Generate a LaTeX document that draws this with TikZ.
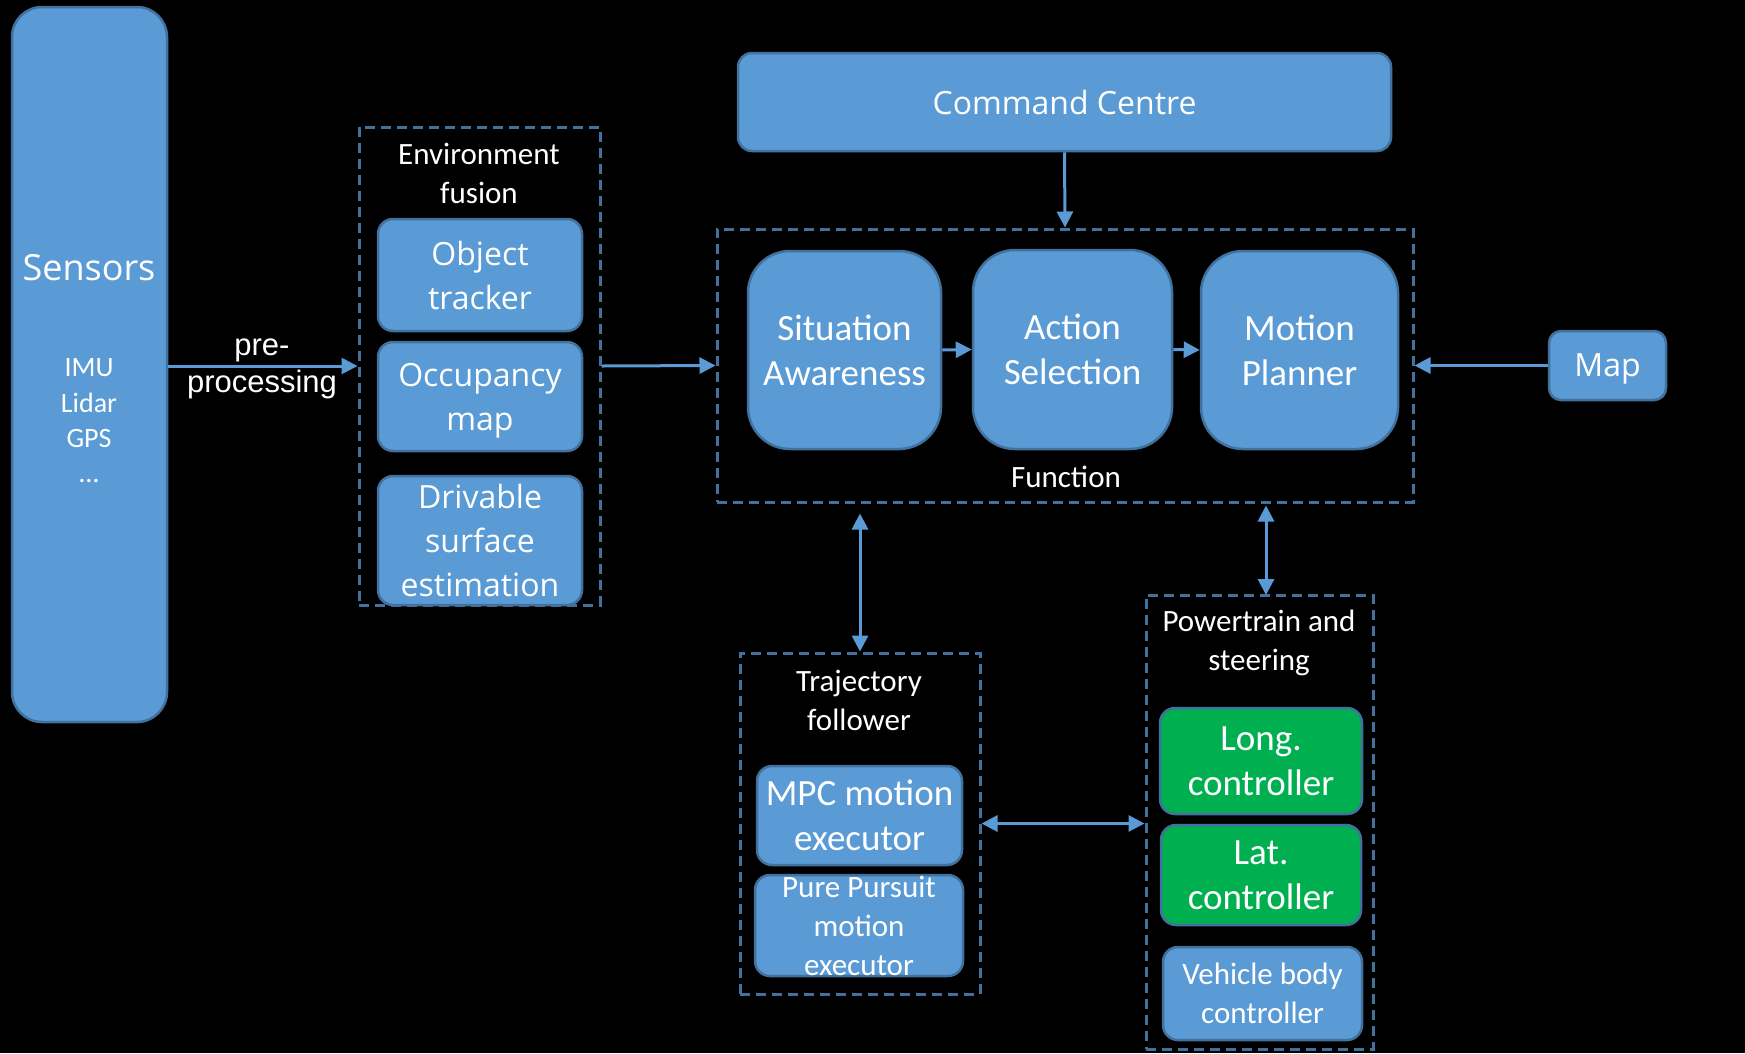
\documentclass[tikz,border=0pt]{standalone}
\usepackage{fontspec}
\newfontfamily\segfont{Open Sans}
\newfontfamily\calfont{Carlito}
\newfontfamily\arifont{Liberation Sans}
\usetikzlibrary{arrows.meta,calc}
\definecolor{boxfill}{HTML}{5B9BD5}
\definecolor{boxedge}{HTML}{41719C}
\definecolor{ctrlgreen}{HTML}{00B050}
\definecolor{linkblue}{HTML}{5B9BD5}

% text styles (sizes in pt, the picture unit is 1pt)
\newcommand\segbig{\segfont\fontsize{36}{44}\selectfont}
\newcommand\segtxt{\segfont\fontsize{32}{44}\selectfont}
\newcommand\calbig{\calfont\fontsize{37}{45}\selectfont}
\newcommand\calmid{\calfont\fontsize{31}{39}\selectfont}
\newcommand\calsmall{\calfont\fontsize{28}{35.5}\selectfont}
\newcommand\aritxt{\arifont\fontsize{31}{37}\selectfont}

\begin{document}
\begin{tikzpicture}[x=1pt,y=-1pt,
  blk/.style={draw=boxedge, fill=boxfill, line width=2.5pt,
    rounded corners=#1, inner sep=0pt, text=white, align=center},
  blk/.default=15pt,
  ctrl/.style={blk=15pt, fill=ctrlgreen},
  grp/.style={draw=boxedge, dash pattern=on 10pt off 6pt, line width=3pt,
    inner sep=0pt},
  lbl/.style={text=white, align=center, inner sep=0pt},
  link/.style={draw=linkblue, line width=3pt,
    -{Triangle[length=16pt,width=16pt]}},
  dlink/.style={draw=linkblue, line width=3pt,
    {Triangle[length=16pt,width=16pt]}-{Triangle[length=16pt,width=16pt]}},
]
% canvas
\fill[black] (0,0) rectangle (1745,1053);
\useasboundingbox (0,0) rectangle (1745,1053);

% sensors column
\node[blk=30pt, minimum width=155pt, minimum height=715pt] (sensors) at (89.5,364.5) {};
\node[lbl, font=\segbig] (sensname) at (89,268) {Sensors};
\node[lbl, font=\calsmall] (sens1) at (89,368) {IMU};
\node[lbl, font=\calsmall] (sens2) at (89,403) {Lidar};
\node[lbl, font=\calsmall] (sens3) at (89,439) {GPS};
\node[lbl, font=\calsmall] (sens4) at (89,481) {…};

% environment fusion
\node[grp, minimum width=241pt, minimum height=478pt] (envbox) at (479.5,366) {};
\node[lbl, font=\calmid] (envlbl) at (479,173.5) {Environment\\fusion};
\node[blk, minimum width=204pt, minimum height=112pt, font=\segtxt] (objtrk) at (480,275) {Object\\tracker};
\node[blk, minimum width=204pt, minimum height=109pt] (occmap) at (480,396.5) {};
\node[lbl, font=\segtxt] (occlbl) at (480,401) {Occupancy\\map};
\node[blk, minimum width=204pt, minimum height=129pt, font=\segtxt] (drivable) at (480,540.5) {Drivable\\surface\\estimation};

% command centre and function block
\node[blk=14pt, minimum width=653pt, minimum height=98pt, font=\segtxt] (cmd) at (1064.5,102) {Command Centre};
\node[grp, minimum width=696pt, minimum height=273pt] (funcbox) at (1065,365.5) {};
\node[blk=42pt, minimum width=193pt, minimum height=198pt, font=\calbig] (sitaw) at (844.5,350) {Situation\\Awareness};
\node[blk=42pt, minimum width=199pt, minimum height=199pt, font=\calbig] (actsel) at (1072.5,349.5) {Action\\Selection};
\node[blk=42pt, minimum width=197pt, minimum height=198pt, font=\calbig] (motpl) at (1299.5,350) {Motion\\Planner};
\node[lbl, font=\calmid] (funclbl) at (1066,477) {Function};

% map
\node[blk=12pt, minimum width=117pt, minimum height=69pt] (map) at (1607.5,365.5) {};
\node[lbl, font=\segtxt] (maplbl) at (1607.5,369) {Map};

% trajectory follower
\node[grp, minimum width=240pt, minimum height=341pt] (traj) at (860,823.5) {};
\node[lbl, font=\calmid] (trajlbl) at (859,700.5) {Trajectory\\follower};
\node[blk, minimum width=205pt, minimum height=99pt, font=\calbig] (mpc) at (859.5,815.5) {MPC motion\\executor};
\node[blk, minimum width=208pt, minimum height=101pt, font=\calmid] (pursuit) at (859,925.5) {Pure Pursuit\\motion\\executor};

% powertrain and steering
\node[grp, minimum width=227pt, minimum height=454pt] (power) at (1259.5,822) {};
\node[lbl, font=\calmid] (powlbl) at (1259,642.5) {Powertrain and\\steering};
\node[ctrl, minimum width=202pt, minimum height=106pt, font=\calbig] (longc) at (1261,761) {Long.\\controller};
\node[ctrl, minimum width=200pt, minimum height=100pt, font=\calbig] (latc) at (1261,875) {Lat.\\controller};
\node[blk, minimum width=199pt, minimum height=93pt, font=\calmid] (vbody) at (1262.5,993.5) {Vehicle body\\controller};

% connectors
\draw[link] (sensors.east |- envbox.west) -- (envbox.west);
\node[lbl, font=\aritxt] (prelbl) at (262,369) {pre-\\processing};
\draw[link] (envbox.east) -- (funcbox.west);
\draw[link] (cmd.south) -- (funcbox.north);
\draw[link] (sitaw.east) -- (actsel.west);
\draw[link] (actsel.east) -- (motpl.west);
\draw[link] (map.west) -- (funcbox.east);
\draw[dlink, shorten <=10pt] (traj.north |- funcbox.south) -- (traj.north);
\coordinate (powtap) at (1266,595);
\draw[dlink] ($(funcbox.south -| powtap)+(0,2)$) -- (powtap);
\draw[dlink] (traj.east) -- (traj.east -| power.west);
\end{tikzpicture}
\end{document}
